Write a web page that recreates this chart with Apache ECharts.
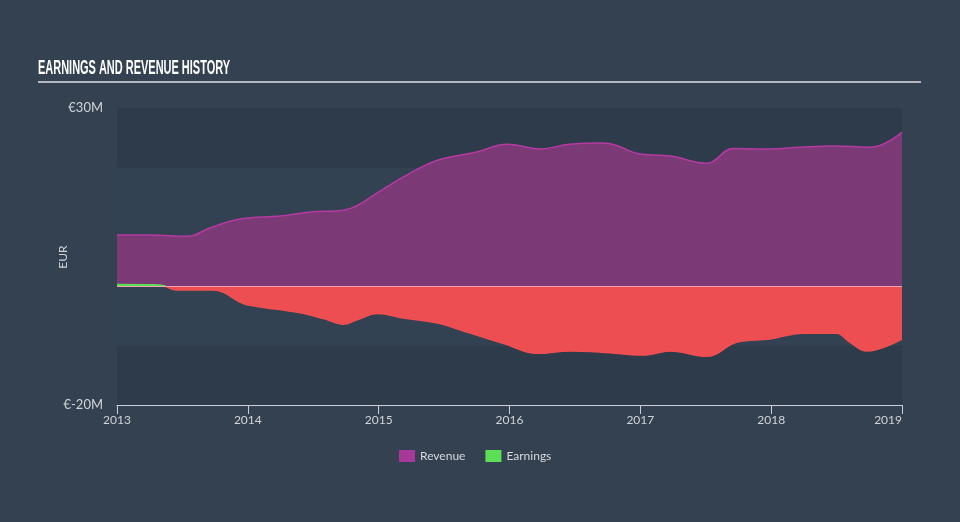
<!DOCTYPE html>
<html>
<head>
<meta charset="utf-8">
<script src="https://cdn.jsdelivr.net/npm/echarts@6/dist/echarts.min.js"></script>
<style>
html,body{margin:0;padding:0;background:#334151;}
#chart{width:960px;height:522px;}
</style>
</head>
<body>
<div id="chart"></div>
<script>
const xTickLabels = [2013, 2014, 2015, 2016, 2017, 2018, 2019];
const yTickLabels = {30: '€30M', '-20': '€-20M'};
const yAxisTitle = 'EUR';

const revenueYears = [2013.00, 2013.25, 2013.54, 2013.71, 2013.94, 2014.25, 2014.48, 2014.73, 2014.83, 2014.99, 2015.19, 2015.45, 2015.75, 2015.98, 2016.23, 2016.46, 2016.71, 2016.82, 2016.97, 2017.23, 2017.51, 2017.71, 2017.99, 2018.22, 2018.47, 2018.76, 2019.00];
const revenueValues = [8.6, 8.6, 8.4, 9.8, 11.3, 11.8, 12.5, 12.8, 13.5, 15.7, 18.4, 21.2, 22.6, 23.9, 23.1, 23.9, 24.1, 23.7, 22.4, 21.9, 20.7, 23.2, 23.1, 23.4, 23.6, 23.4, 25.9];

const earningsYears = [2013.00, 2013.28, 2013.37, 2013.46, 2013.73, 2013.81, 2013.96, 2014.07, 2014.38, 2014.57, 2014.73, 2014.83, 2014.99, 2015.20, 2015.45, 2015.70, 2015.95, 2016.21, 2016.46, 2016.71, 2017.02, 2017.23, 2017.51, 2017.74, 2017.99, 2018.24, 2018.50, 2018.60, 2018.73, 2019.00];
const earningsValues = [0.25, 0.2, 0, -0.65, -0.65, -1.0, -2.9, -3.4, -4.4, -5.4, -6.4, -5.7, -4.6, -5.4, -6.2, -7.9, -9.6, -11.3, -10.9, -11.1, -11.6, -10.9, -11.8, -9.4, -8.9, -7.9, -7.9, -9.4, -10.9, -8.9];

const revenueData = revenueYears.map((x, i) => [x, revenueValues[i]]);
const earningsData = earningsYears.map((x, i) => [x, earningsValues[i]]);
const earningsPos = earningsData.filter(p => p[1] >= 0);
const earningsNeg = earningsData.filter(p => p[1] <= 0);

const titleText = 'EARNINGS AND REVENUE HISTORY';
const titleFont = 'bold 20px "Liberation Sans", sans-serif';
const mctx = document.createElement('canvas').getContext('2d');
mctx.font = titleFont;
const titleScale = 192 / mctx.measureText(titleText).width;

const chart = echarts.init(document.getElementById('chart'));
const labelFont = 'Lato, "Noto Sans", sans-serif';
const dark = '#2e3b4a', light = '#324252';

chart.setOption({
  backgroundColor: '#334151',
  animation: false,
  graphic: [{
    type: 'text', x: 38, y: 58, scaleX: titleScale, silent: true,
    style: {text: titleText, font: titleFont, fill: '#ffffff', textVerticalAlign: 'top'}
  }, {
    type: 'line', shape: {x1: 38, y1: 82, x2: 921, y2: 82},
    style: {stroke: '#b4b8be', lineWidth: 2}, silent: true
  }, {
    type: 'text', x: 63, y: 257, rotation: Math.PI / 2, silent: true,
    style: {text: yAxisTitle, font: '12px ' + labelFont, fill: '#d0d4d8', textAlign: 'center', textVerticalAlign: 'middle'}
  }],
  grid: {left: 117, right: 58, top: 108, bottom: 117},
  legend: {
    bottom: 55, left: 394,
    itemWidth: 16, itemHeight: 12, itemGap: 20,
    icon: 'rect',
    textStyle: {color: '#d6d9dd', fontSize: 12, fontFamily: labelFont},
    data: [{name: 'Revenue', itemStyle: {color: '#a8389a'}}, {name: 'Earnings', itemStyle: {color: '#5be055'}}]
  },
  xAxis: {
    type: 'value', min: xTickLabels[0], max: xTickLabels[xTickLabels.length - 1], interval: 1,
    axisLine: {show: true, onZero: false, lineStyle: {color: '#c9ced8', width: 1}},
    axisTick: {show: true, length: 9, lineStyle: {color: '#c9ced8'}},
    axisLabel: {color: '#d0d4d8', fontSize: 12, fontFamily: labelFont, margin: 9,
      formatter: v => xTickLabels.includes(v) ? String(v) : '', alignMaxLabel: 'right'},
    splitLine: {show: false}
  },
  yAxis: {
    type: 'value', min: -20, max: 30, interval: 10,
    axisLine: {show: false}, axisTick: {show: false},
    axisLabel: {color: '#d0d4d8', fontSize: 13, fontFamily: labelFont, margin: 14,
      formatter: v => yTickLabels[v] || ''},
    splitLine: {show: false},
    splitArea: {show: true, areaStyle: {color: [dark, light, light, light, dark]}}
  },
  series: [{
    name: 'Revenue', type: 'line', data: revenueData, smooth: 0.4, symbol: 'none',
    lineStyle: {color: '#b53aa2', width: 1.5},
    itemStyle: {color: '#a8389a'},
    areaStyle: {color: '#7b3975', opacity: 1},
    markLine: {silent: true, symbol: 'none', label: {show: false},
      lineStyle: {color: '#f2a3b8', width: 1, type: 'solid'}, data: [{yAxis: 0}]},
    z: 2
  }, {
    name: 'Earnings', type: 'line', data: earningsNeg, smooth: 0.4, symbol: 'none',
    lineStyle: {width: 1.5, color: '#f24f52'},
    itemStyle: {color: '#5be055'},
    areaStyle: {color: '#ec4e51', opacity: 1},
    z: 3
  }, {
    name: 'Earnings', type: 'line', data: earningsPos, smooth: 0.4, symbol: 'none',
    lineStyle: {width: 2, color: '#5be055'},
    itemStyle: {color: '#5be055'},
    areaStyle: {color: '#5be055', opacity: 1},
    z: 4
  }]
});
</script>
</body>
</html>
